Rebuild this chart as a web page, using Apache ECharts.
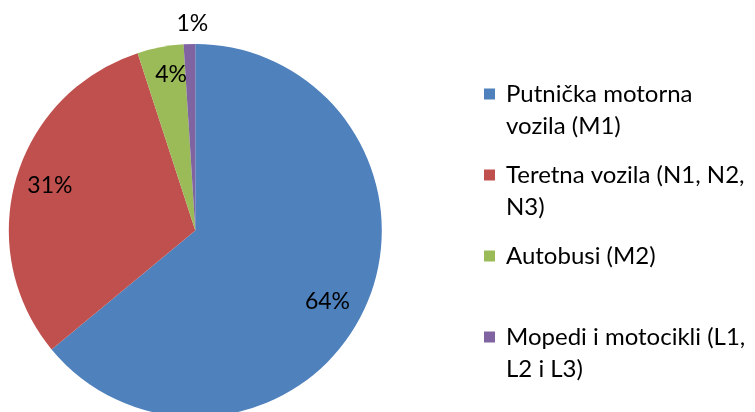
<!DOCTYPE html>
<html>
<head>
<meta charset="utf-8">
<script src="https://cdn.jsdelivr.net/npm/echarts@6/dist/echarts.min.js"></script>
<style>
  html, body { margin: 0; padding: 0; background: #fff; }
  #chart { width: 755px; height: 412px; }
</style>
</head>
<body>
<div id="chart"></div>
<script>
// Vehicle categories and their shares (%)
const categories = [
  'Putnička motorna vozila (M1)',
  'Teretna vozila (N1, N2, N3)',
  'Autobusi (M2)',
  'Mopedi i motocikli (L1, L2 i L3)'
];
const values = [64, 31, 4, 1];
// Legend text, wrapped onto two lines per entry
const legendLines = [
  'Putnička motorna\nvozila (M1)',
  'Teretna vozila (N1, N2,\nN3)',
  'Autobusi (M2)\n ',
  'Mopedi i motocikli (L1,\nL2 i L3)'
];
const colors = ['#4F81BD', '#C0504D', '#9BBB59', '#8064A2'];

const FONT = 'Lato';
const CX = 195.3, CY = 230.5, R = 186.5;

// Invisible ring over the pie that only carries the label of one slice.
// inner/outer set the label's distance from the centre, nudge turns it slightly.
function labelRing(showIdx, inner, outer, nudge) {
  return {
    type: 'pie',
    silent: true,
    center: [CX, CY],
    radius: [inner, outer],
    startAngle: 90 - nudge,
    clockwise: true,
    itemStyle: { color: 'rgba(0,0,0,0)', borderWidth: 0 },
    label: {
      position: 'inside',
      formatter: '{d}%',
      color: '#000',
      fontFamily: FONT,
      fontSize: 23
    },
    labelLine: { show: false },
    emphasis: { disabled: true },
    data: categories.map((name, i) => ({
      name: name,
      value: values[i],
      label: { show: i === showIdx }
    }))
  };
}

const chart = echarts.init(document.getElementById('chart'), null, { renderer: 'canvas' });
chart.setOption({
  animation: false,
  legend: {
    orient: 'vertical',
    left: 484,
    top: 46,
    padding: 0,
    icon: 'rect',
    itemWidth: 11,
    itemHeight: 11,
    itemGap: -15,
    selectedMode: false,
    data: categories,
    // a leading empty line keeps the first text line level with the swatch
    formatter: function (name) {
      return '\n' + legendLines[categories.indexOf(name)];
    },
    textStyle: {
      fontFamily: FONT,
      fontSize: 24,
      lineHeight: 32,
      color: '#000',
      padding: [0, 0, 0, 6]
    }
  },
  series: [
    {
      type: 'pie',
      center: [CX, CY],
      radius: [0, R],
      startAngle: 90,
      clockwise: true,
      label: { show: false },
      labelLine: { show: false },
      emphasis: { disabled: true },
      data: categories.map((name, i) => ({
        name: name,
        value: values[i],
        itemStyle: { color: colors[i] }
      }))
    },
    labelRing(0, R * 0.576, R, 3),
    labelRing(1, R * 0.60, R, 1),
    labelRing(2, R * 0.66, R, 2),
    // the thin slice is labelled just outside the rim
    labelRing(3, R, R + 34, 1)
  ]
});
</script>
</body>
</html>
